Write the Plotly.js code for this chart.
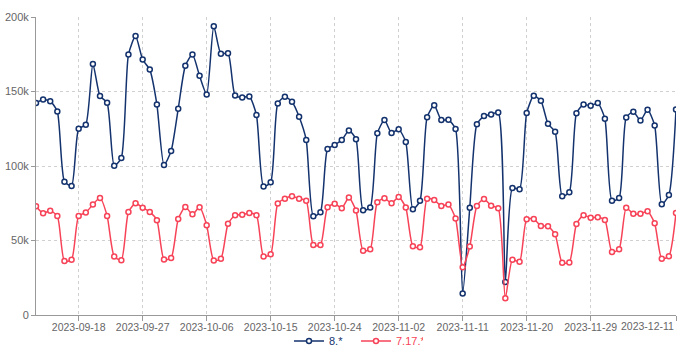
<!DOCTYPE html>
<html>
<head>
<meta charset="utf-8">
<script src="https://cdn.plot.ly/plotly-3.0.1.min.js"></script>
<style>html,body{margin:0;padding:0;background:#fff;}#chart{width:690px;height:353px;}</style>
</head>
<body>
<div id="chart"></div>
<script>
const dates = [
 '2023-09-12','2023-09-13','2023-09-14','2023-09-15','2023-09-16','2023-09-17','2023-09-18','2023-09-19','2023-09-20','2023-09-21',
 '2023-09-22','2023-09-23','2023-09-24','2023-09-25','2023-09-26','2023-09-27','2023-09-28','2023-09-29','2023-09-30','2023-10-01',
 '2023-10-02','2023-10-03','2023-10-04','2023-10-05','2023-10-06','2023-10-07','2023-10-08','2023-10-09','2023-10-10','2023-10-11',
 '2023-10-12','2023-10-13','2023-10-14','2023-10-15','2023-10-16','2023-10-17','2023-10-18','2023-10-19','2023-10-20','2023-10-21',
 '2023-10-22','2023-10-23','2023-10-24','2023-10-25','2023-10-26','2023-10-27','2023-10-28','2023-10-29','2023-10-30','2023-10-31',
 '2023-11-01','2023-11-02','2023-11-03','2023-11-04','2023-11-05','2023-11-06','2023-11-07','2023-11-08','2023-11-09','2023-11-10',
 '2023-11-11','2023-11-12','2023-11-13','2023-11-14','2023-11-15','2023-11-16','2023-11-17','2023-11-18','2023-11-19','2023-11-20',
 '2023-11-21','2023-11-22','2023-11-23','2023-11-24','2023-11-25','2023-11-26','2023-11-27','2023-11-28','2023-11-29','2023-11-30',
 '2023-12-01','2023-12-02','2023-12-03','2023-12-04','2023-12-05','2023-12-06','2023-12-07','2023-12-08','2023-12-09','2023-12-10',
 '2023-12-11'
];
const series8 = [
 142200,144600,143500,136600,89500,86600,125000,127700,168500,146900,
 142400,100200,105400,174800,187300,171400,164700,141300,100700,110000,
 138400,167200,174800,160500,148000,193800,175400,175700,147300,146000,
 146700,134200,86200,89100,142000,146400,143100,133000,117400,66300,
 69000,111400,114100,117400,123900,117900,70300,72100,121900,130800,
 122100,124600,116100,71000,76600,132800,140800,130800,131000,124800,
 14500,72000,128100,133500,134600,135900,22100,85300,84400,135500,
 147100,143800,128300,123000,79700,82400,135400,141300,140400,142200,
 131700,76600,78600,132600,136400,130600,137700,127200,74300,80600,
 137900
];
const series717 = [
 73000,68300,69900,66500,36200,37100,66500,68800,74100,78600,
 66500,39300,36800,69200,75000,72000,69200,63600,37300,38200,
 64500,72500,67600,72300,60300,36600,37700,61200,67000,67200,
 68500,67000,39300,40800,74800,78100,79700,78100,76600,46900,
 46900,72300,74600,71700,78800,70100,43100,44200,75700,78300,
 75000,79200,72100,46200,45500,78100,77200,73200,74100,64700,
 32100,45900,73200,77900,73400,71700,11200,37100,35700,64300,
 64500,59800,59600,54200,35000,35300,61000,67000,65200,65600,
 63800,42200,44200,71900,67900,67900,69600,61600,37700,39500,
 68500
];
const seriesNames = ['8.*', '7.17.*'];
const seriesColors = ['#14336e', '#f74358'];
const xTickVals = ['2023-09-18','2023-09-27','2023-10-06','2023-10-15','2023-10-24','2023-11-02','2023-11-11','2023-11-20','2023-11-29','2023-12-11'];
const xTickText = ['2023-09-18','2023-09-27','2023-10-06','2023-10-15','2023-10-24','2023-11-02','2023-11-11','2023-11-20','2023-11-29',''];
const yTickVals = [0, 50000, 100000, 150000, 200000];
const yTickText = ['0', '50k', '100k', '150k', '200k'];

const FONT = 'Liberation Sans, Arial, sans-serif';
function mk(vals, i) {
  return {
    x: dates, y: vals, type: 'scatter', mode: 'lines+markers',
    name: '<span style="color:' + seriesColors[i] + '">' + seriesNames[i] + '</span>',
    line: {color: seriesColors[i], width: 1.5, shape: 'spline', smoothing: 0.6},
    marker: {symbol: 'circle', size: 5, color: '#ffffff', line: {color: seriesColors[i], width: 1.5}},
    hoverinfo: 'x+y'
  };
}
const data = [mk(series8, 0), mk(series717, 1)];
const layout = {
  width: 690, height: 353,
  margin: {l: 36, r: 14, t: 17, b: 38, autoexpand: false},
  paper_bgcolor: '#fff', plot_bgcolor: '#fff',
  font: {family: FONT, size: 11, color: '#666'},
  showlegend: true,
  legend: {orientation: 'h', x: 0.5, xanchor: 'center', y: -0.087, yanchor: 'middle',
           font: {family: FONT, size: 11}, entrywidth: 22, tracegroupgap: 0, bgcolor: 'rgba(0,0,0,0)'},
  xaxis: {
    type: 'date', range: [dates[0], dates[dates.length - 1]],
    tickmode: 'array', tickvals: xTickVals, ticktext: xTickText,
    showgrid: true, gridcolor: '#d0d0d0', griddash: 'dot', gridwidth: 1,
    showline: true, linecolor: '#999', linewidth: 1,
    ticks: 'outside', ticklen: 5, tickcolor: '#999', ticklabelstandoff: -3,
    tickfont: {family: FONT, size: 10.5, color: '#666'},
    zeroline: false, fixedrange: true, automargin: false
  },
  yaxis: {
    range: [0, 200000],
    tickmode: 'array', tickvals: yTickVals, ticktext: yTickText,
    showgrid: true, gridcolor: '#d0d0d0', griddash: 'dot', gridwidth: 1,
    showline: true, linecolor: '#999', linewidth: 1,
    ticks: 'outside', ticklen: 4, tickcolor: '#999',
    tickfont: {family: FONT, size: 11, color: '#666'},
    zeroline: false, fixedrange: true, automargin: false
  },
  annotations: [{
    x: xTickVals[xTickVals.length - 1], xref: 'x', y: 0, yref: 'paper',
    text: xTickVals[xTickVals.length - 1], showarrow: false,
    xanchor: 'right', yanchor: 'top', yshift: -3,
    font: {family: FONT, size: 10.5, color: '#666'}
  }]
};
Plotly.newPlot('chart', data, layout, {displayModeBar: false, staticPlot: true});
</script>
</body>
</html>
